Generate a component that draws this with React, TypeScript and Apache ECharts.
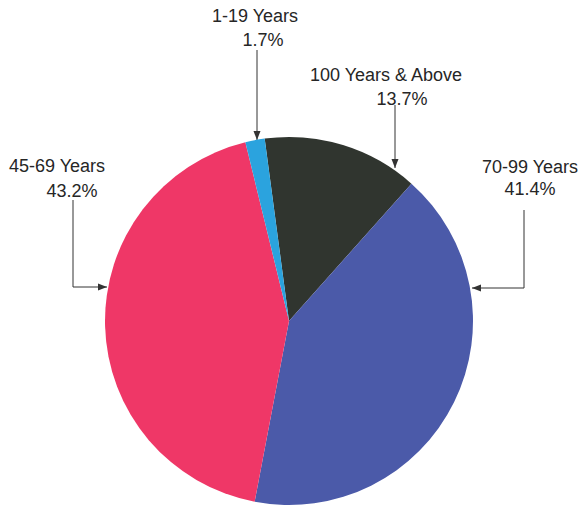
import React, { useEffect, useRef } from "react";
import * as echarts from "echarts";

const categories = ["100 Years & Above", "70-99 Years", "45-69 Years", "1-19 Years"];
const shares = [13.7, 41.4, 43.2, 1.7];
const colors = ["#30352f", "#4b5aa9", "#ef3767", "#2ba3de"];

// callout layout: name centre, value centre, arrow path (last point = arrow tip)
const callouts = [
  { nx: 386, ny: 75, vx: 402, vy: 99, path: [[395, 105], [395, 168]], dir: "down" },
  { nx: 530, ny: 167, vx: 530, vy: 189, path: [[524, 210], [524, 288], [472, 288]], dir: "left" },
  { nx: 57, ny: 166, vx: 72, vy: 191, path: [[73, 200], [73, 287], [107, 287]], dir: "right" },
  { nx: 255, ny: 16, vx: 263, vy: 40, path: [[257, 50], [257, 140]], dir: "down" },
];

function arrowHead(tip: number[], dir: string) {
  const [x, y] = tip;
  const L = 9, W = 3.5;
  if (dir === "down") return [[x, y], [x - W, y - L], [x + W, y - L]];
  if (dir === "left") return [[x, y], [x + L, y - W], [x + L, y + W]];
  return [[x, y], [x - L, y - W], [x - L, y + W]];
}

const FONT = "18px 'Liberation Sans', Arial, sans-serif";

export default function App() {
  const ref = useRef<HTMLDivElement>(null);
  useEffect(() => {
    const chart = echarts.init(ref.current!, null, { renderer: "svg" });
    const graphic: any[] = [];
    callouts.forEach((c, i) => {
      graphic.push({
        type: "text",
        x: c.nx,
        y: c.ny,
        style: {
          text: categories[i],
          fill: "#262626",
          font: FONT,
          textAlign: "center",
          textVerticalAlign: "middle",
        },
      });
      graphic.push({
        type: "text",
        x: c.vx,
        y: c.vy,
        style: {
          text: shares[i].toFixed(1) + "%",
          fill: "#262626",
          font: FONT,
          textAlign: "center",
          textVerticalAlign: "middle",
        },
      });
      const pts = c.path.slice();
      graphic.push({
        type: "polyline",
        shape: { points: pts },
        style: { stroke: "#333", lineWidth: 1, fill: null },
      });
      graphic.push({
        type: "polygon",
        shape: { points: arrowHead(pts[pts.length - 1], c.dir) },
        style: { fill: "#333" },
      });
    });
    chart.setOption({
      animation: false,
      backgroundColor: "#ffffff",
      series: [
        {
          type: "pie",
          center: [289, 321],
          radius: 184,
          startAngle: 97.6,
          clockwise: true,
          label: { show: false },
          labelLine: { show: false },
          itemStyle: { borderWidth: 0 },
          emphasis: { disabled: true },
          data: categories.map((name, i) => ({
            name,
            value: shares[i],
            itemStyle: { color: colors[i] },
          })),
        },
      ],
      graphic,
    });
    return () => chart.dispose();
  }, []);
  return (
    <div
      ref={ref}
      style={{ position: "fixed", left: 0, top: 0, width: 582, height: 506 }}
    />
  );
}
